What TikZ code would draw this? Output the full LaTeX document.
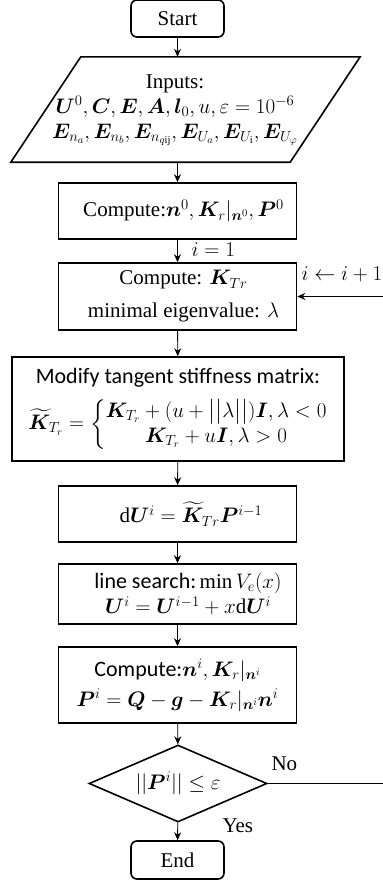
\RequirePackage{fix-cm}
\documentclass[tikz,border=0pt]{standalone}
\usepackage{amsmath,bm}
\usepackage{fontspec}
\setmainfont{Liberation Serif}
\newfontfamily\tnr{Liberation Serif}
\newfontfamily\calib{Carlito}
\usetikzlibrary{arrows.meta,shapes.geometric}

\begin{document}
\begin{tikzpicture}[x=1pt,y=-1pt,>={Stealth[length=8pt,width=7pt]},font=\tnr\fontsize{21}{25}\selectfont]
\tikzstyle{b}=[draw,line width=1.6pt,align=center,minimum width=238pt,inner sep=0pt]
\tikzstyle{t}=[draw,line width=1.6pt,rounded corners=6pt,minimum width=93pt,minimum height=37pt,inner sep=0pt]
\tikzstyle{a}=[->,line width=0.9pt]
\useasboundingbox (0,0) rectangle (383,884);
\node[t] (start) at (177.5,18.5) {Start};
\node[minimum width=349pt,minimum height=105pt,inner sep=0pt] (in) at (185.5,109.5) {};
\draw[line width=1.6pt,line join=miter] ([xshift=70pt]in.north west) -- (in.north east) -- ([xshift=-70pt]in.south east) -- (in.south west) -- cycle;
\node[align=center,inner sep=0pt] (intxt) at (175,110) {Inputs:\\ $\bm U^0,\bm C,\bm E,\bm A,\bm l_0,u,\varepsilon=10^{-6}$\\ $\bm E_{n_a},\bm E_{n_b},\bm E_{n_{q\mathrm{ij}}},\bm E_{U_a},\bm E_{U_\mathrm{i}},\bm E_{U_\varphi}$};
\node[b,minimum height=56pt] (c1) at (177.5,211) {\hspace*{12pt}Compute:$\bm n^0,\bm K_r|_{\bm n^0},\bm P^0$};
\node[b,minimum height=67pt] (c2) at (177.5,296.5) {\hspace*{12pt}Compute: $\bm K_{Tr}$\\[8pt] \hspace*{12pt}minimal\ eigenvalue: $\lambda$};
\node[b,minimum width=332pt,minimum height=104pt] (mod) at (178,409) {{\calib\fontsize{22}{26}\selectfont Modify tangent stiffness matrix:}\\[11pt] $\widetilde{\bm K}_{T_r}=\left\{\begin{array}{@{}c@{}}\bm K_{T_r}+(u+\bigl|\bigl|\lambda\bigr|\bigr|)\bm I,\lambda<0\\ \bm K_{T_r}+u\bm I,\lambda>0\end{array}\right.$};
\node[b,minimum height=56pt] (du) at (177.5,514) {\hspace*{27pt}$\mathrm d\bm U^i=\widetilde{\bm K}_{Tr}\bm P^{i-1}$};
\node[b,minimum height=60pt] (ls) at (177.5,594) {\hspace*{21pt}{\calib\fontsize{22}{26}\selectfont line search:}\,$\min V_e(x)$\\ \hspace*{21pt}$\bm U^i=\bm U^{i-1}+x\mathrm d\bm U^i$};
\node[b,minimum height=76pt] (upd) at (177.5,685) {{\calib\fontsize{22}{26}\selectfont Compute:}$\bm n^i,\bm K_r|_{\bm n^i}$\\[5pt] $\bm P^i=\bm Q-\bm g-\bm K_r|_{\bm n^i}\bm n^i$};
\node[draw,line width=1.6pt,diamond,aspect=2.3,minimum width=178pt,minimum height=77pt,inner sep=0pt] (dec) at (178,783.5) {$||\bm P^i||\leq\varepsilon$};
\node[t,minimum height=38pt] (end) at (177.5,860) {End};
\draw[a] (start) -- (start|-in.north); \draw[a] (in.south-|c1) -- (c1);
\draw[a] (c1) -- (c2); \draw[a] (c2) -- (mod); \draw[a] (mod) -- (du);
\draw[a] (du) -- (ls); \draw[a] (ls) -- (upd); \draw[a] (upd) -- (dec); \draw[a] (dec) -- (end);
\coordinate (back) at (420,783.5);
\draw[->,line width=1.6pt] (dec.east) -- (back) |- (c2.east);
\node[anchor=west] (one) at (188,250) {$i=1$};
\node[anchor=west] (inc) at (298,274) {$i\leftarrow i+1$};
\node[anchor=west] (no) at (268,764) {No};
\node[anchor=west] (yes) at (219,826) {Yes};
\end{tikzpicture}
\end{document}
